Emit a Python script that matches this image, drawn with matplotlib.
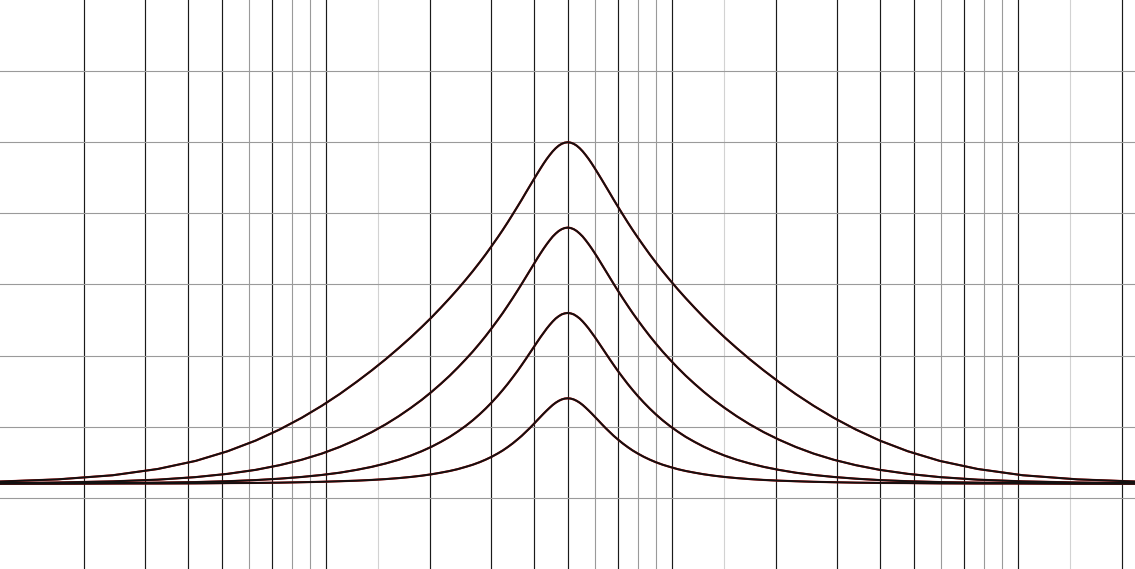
import matplotlib
matplotlib.use("Agg")
import matplotlib.pyplot as plt

freqs_low = [10.87, 16.75, 24.17, 32.61, 42.00, 51.97, 62.62, 73.47, 85.06,
             97.18, 109.55, 122.68, 135.57, 148.82, 162.27, 175.77, 189.13,
             202.15, 214.64, 227.89, 240.36, 253.51, 265.61, 278.28, 289.62,
             301.43, 313.72, 324.34, 335.32, 346.67, 358.41, 368.08, 378.02,
             388.22, 398.70, 409.46, 417.72, 426.15, 434.75, 443.53, 452.47,
             461.60, 470.91, 480.42, 490.11]
freq_peak = [500.0]
freqs_high = [510.09, 520.38, 530.88, 541.59, 552.52, 563.67, 575.04, 586.64,
              598.48, 610.56, 627.04, 643.96, 661.35, 679.20, 697.53, 721.15,
              745.56, 770.80, 796.90, 829.38, 863.19, 898.36, 941.23, 986.14,
              1040.1, 1097.0, 1164.8, 1236.7, 1321.8, 1422.3, 1540.6, 1679.9,
              1844.0, 2037.7, 2282.0, 2572.6, 2939.0, 3402.7, 3992.4, 4810.6,
              5953, 7667, 10346, 14922, 23003]
freqs = freqs_low + freq_peak + freqs_high

# Level (dB) from the outer tail up to the 500 Hz peak; the picture is
# mirror-symmetric on the log-frequency axis, so the high side repeats it.
half_24 = [0.13, 0.30, 0.59, 1.03, 1.60, 2.28, 3.03, 3.81, 4.63, 5.47, 6.30,
           7.16, 7.96, 8.75, 9.53, 10.28, 11.01, 11.70, 12.36, 13.04, 13.67,
           14.33, 14.93, 15.56, 16.12, 16.71, 17.31, 17.83, 18.37, 18.93,
           19.50, 19.96, 20.44, 20.91, 21.38, 21.84, 22.18, 22.51, 22.82,
           23.10, 23.36, 23.58, 23.76, 23.89, 23.97, 24.0]
half_18 = [0.03, 0.08, 0.16, 0.28, 0.46, 0.69, 0.97, 1.30, 1.68, 2.11, 2.58,
           3.10, 3.62, 4.17, 4.74, 5.32, 5.89, 6.46, 7.01, 7.59, 8.15, 8.74,
           9.28, 9.86, 10.38, 10.93, 11.50, 11.99, 12.51, 13.04, 13.59, 14.04,
           14.50, 14.96, 15.42, 15.88, 16.21, 16.53, 16.83, 17.11, 17.37,
           17.58, 17.76, 17.89, 17.97, 18.0]
half_12 = [0.01, 0.02, 0.04, 0.07, 0.11, 0.17, 0.25, 0.35, 0.47, 0.61, 0.77,
           0.97, 1.18, 1.42, 1.68, 1.97, 2.28, 2.60, 2.93, 3.29, 3.66, 4.06,
           4.45, 4.88, 5.28, 5.71, 6.17, 6.58, 7.01, 7.47, 7.94, 8.34, 8.75,
           9.17, 9.59, 10.01, 10.32, 10.61, 10.90, 11.16, 11.40, 11.61, 11.77,
           11.90, 11.97, 12.0]
half_6 = [0.0, 0.0, 0.01, 0.01, 0.02, 0.04, 0.05, 0.07, 0.10, 0.13, 0.17,
          0.21, 0.26, 0.32, 0.39, 0.47, 0.56, 0.66, 0.77, 0.89, 1.02, 1.18,
          1.33, 1.51, 1.69, 1.89, 2.12, 2.33, 2.57, 2.83, 3.12, 3.36, 3.63,
          3.90, 4.19, 4.49, 4.71, 4.93, 5.14, 5.34, 5.53, 5.69, 5.82, 5.92,
          5.98, 6.0]

curves = [h + h[-2::-1] for h in (half_24, half_18, half_12, half_6)]

# Grid
grid_black = [20, 30, 40, 50, 70, 100, 200, 300, 400, 500, 700, 1000, 2000,
              3000, 4000, 5000, 7000, 10000, 20000]
grid_gray = [60, 80, 90, 600, 800, 900, 6000, 8000, 9000]
grid_light = [141.4, 1414, 14142]
grid_db = [-1, 4, 9, 14, 19, 24, 29]

fig = plt.figure(figsize=(11.35, 5.69), dpi=100)
ax = fig.add_axes([0, 0, 1, 1])
ax.set_xscale("log")
ax.set_xlim(11.41, 21852)
ax.set_ylim(-6, 34)
for s in ax.spines.values():
    s.set_visible(False)
ax.set_xticks([])
ax.set_yticks([])
ax.minorticks_off()
ax.tick_params(which="both", length=0, labelbottom=False, labelleft=False)

for f in grid_light:
    ax.axvline(f, color="#d2d2d2", lw=0.8, zorder=1)
for f in grid_gray:
    ax.axvline(f, color="#9a9a9a", lw=0.8, zorder=1)
for f in grid_black:
    ax.axvline(f, color="#1a1a1a", lw=0.85, zorder=1)
for d in grid_db:
    ax.axhline(d, color="#9a9a9a", lw=0.8, zorder=1)

for c in curves:
    ax.plot(freqs, c, color="#b00000", lw=1.55, zorder=3,
            solid_joinstyle="round")
for c in curves:
    ax.plot(freqs, c, color="#111111", lw=1.35, zorder=4,
            solid_joinstyle="round")

fig.savefig("out.png", dpi=100, facecolor="white")
